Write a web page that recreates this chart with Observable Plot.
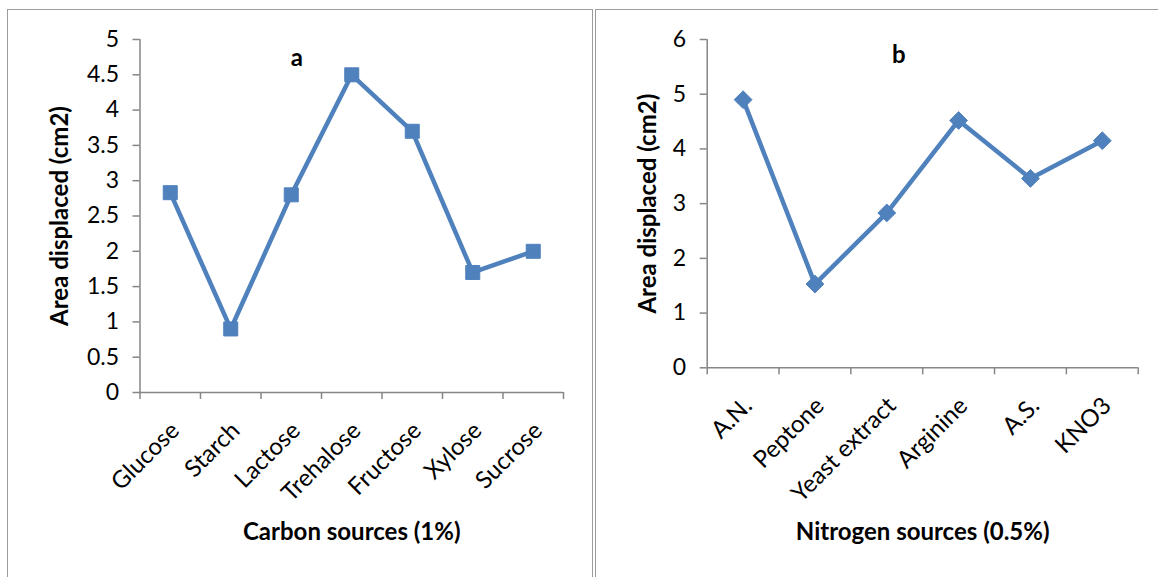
<!DOCTYPE html>
<html>
<head>
<meta charset="utf-8">
<script src="https://cdn.jsdelivr.net/npm/d3@7"></script>
<script src="https://cdn.jsdelivr.net/npm/@observablehq/plot@0.6"></script>
<style>
  html, body { margin: 0; padding: 0; background: #fff; }
  #wrap { position: relative; width: 1158px; height: 577px; overflow: hidden; background: #fff; }
  .panel { position: absolute; box-sizing: border-box; }
  #frameL { left: 7px; top: 9px; width: 586px; height: 600px; border: 1.5px solid #9c9c9c; }
  #frameR { left: 595px; top: 9px; width: 620px; height: 600px; border-top: 1.5px solid #9c9c9c; border-left: 1.5px solid #9c9c9c; }
  #wrap svg { position: absolute; top: 0; }
</style>
</head>
<body>
<div id="wrap">
  <div id="frameL" class="panel"></div>
  <div id="frameR" class="panel"></div>
</div>
<script>
// ---- data ----
const carbonSources = ["Glucose", "Starch", "Lactose", "Trehalose", "Fructose", "Xylose", "Sucrose"];
const carbonArea = [2.83, 0.9, 2.8, 4.5, 3.7, 1.7, 2.0];
const carbonYTicks = [0, 0.5, 1, 1.5, 2, 2.5, 3, 3.5, 4, 4.5, 5];

const nitrogenSources = ["A.N.", "Peptone", "Yeast extract", "Arginine", "A.S.", "KNO3"];
const nitrogenArea = [4.9, 1.53, 2.83, 4.52, 3.46, 4.15];
const nitrogenYTicks = [0, 1, 2, 3, 4, 5, 6];

const panelTitles = ["a", "b"];
const xTitles = ["Carbon sources (1%)", "Nitrogen sources (0.5%)"];
const yTitle = "Area displaced (cm2)";

// ---- styling ----
const BLUE = "#4f81bd";
const GRAY = "#868686";
const FONT = "Lato, 'Open Sans', sans-serif";

function chart(o) {
  const n = o.cats.length;
  const data = o.cats.map((c, i) => ({cat: c, xi: i + 0.5, v: o.vals[i]}));
  return Plot.plot({
    width: o.width,
    height: 577,
    marginLeft: o.marginLeft,
    marginRight: o.marginRight,
    marginTop: 39,
    marginBottom: o.marginBottom,
    x: {type: "linear", domain: [0, n]},
    y: {type: "linear", domain: [0, o.yMax]},
    style: {fontFamily: FONT, fontSize: "23px", color: "#000", background: "transparent", overflow: "visible"},
    marks: [
      Plot.axisY({ticks: o.yTicks, tickSize: 7, tickPadding: 14, stroke: GRAY, strokeWidth: 1.5, fill: "#000", tickFormat: d => String(d), label: null}),
      Plot.axisX({ticks: d3.range(n + 1), tickSize: 7, tickFormat: () => "", stroke: GRAY, strokeWidth: 1.5, label: null}),
      Plot.axisX({ticks: data.map(d => d.xi), tickSize: 0, tickPadding: 34, tickRotate: -45, dx: 5,
                  fontSize: 24, tickFormat: v => o.cats[Math.round(v - 0.5)], fill: "#000", label: null}),
      Plot.ruleX([0], {stroke: GRAY, strokeWidth: 1.5}),
      Plot.ruleY([0], {stroke: GRAY, strokeWidth: 1.5}),
      Plot.line(data, {x: "xi", y: "v", stroke: BLUE, strokeWidth: 4.5}),
      Plot.dot(data, {x: "xi", y: "v", symbol: o.symbol, r: o.r, fill: BLUE, stroke: BLUE, strokeWidth: 1}),
      Plot.text([o.title], {text: d => d, frameAnchor: "top", lineAnchor: "middle", dx: o.titleDx, dy: o.titleDy, fontWeight: "bold", fontSize: 24}),
      Plot.text([o.xTitle], {text: d => d, frameAnchor: "bottom", lineAnchor: "middle", dy: o.xTitleDy, fontWeight: "bold", fontSize: 24}),
      Plot.text([yTitle], {text: d => d, frameAnchor: "left", textAnchor: "middle", lineAnchor: "middle", rotate: -90, dx: o.yTitleDx, fontWeight: "bold", fontSize: 24})
    ]
  });
}

const left = chart({
  cats: carbonSources, vals: carbonArea, yTicks: carbonYTicks, yMax: 5,
  width: 593, marginLeft: 139.5, marginRight: 30, marginBottom: 185,
  symbol: "square", r: 7.9, title: panelTitles[0], titleDx: -55, titleDy: 19,
  xTitle: xTitles[0], xTitleDy: 140, yTitleDx: -80
});
left.style.left = "0px";

const right = chart({
  cats: nitrogenSources, vals: nitrogenArea, yTicks: nitrogenYTicks, yMax: 6,
  width: 561, marginLeft: 109.7, marginRight: 20.3, marginBottom: 209.7,
  symbol: "diamond2", r: 8, title: panelTitles[1], titleDx: -24, titleDy: 16,
  xTitle: xTitles[1], xTitleDy: 165, yTitleDx: -59
});
right.style.left = "597px";

document.getElementById("wrap").append(left, right);
</script>
</body>
</html>
